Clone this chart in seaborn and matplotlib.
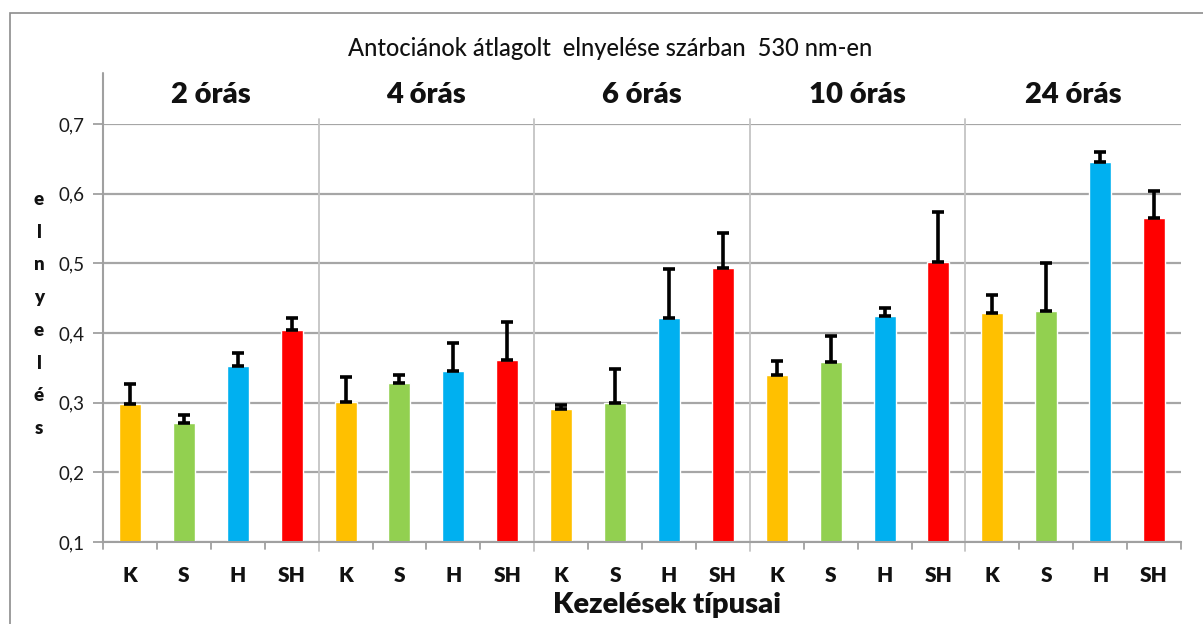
import numpy as np
import pandas as pd
import matplotlib
matplotlib.use("Agg")
import matplotlib.pyplot as plt
import seaborn as sns

# ---- data ----
groups = ["2 órás", "4 órás", "6 órás", "10 órás", "24 órás"]
treatments = ["K", "S", "H", "SH"]
values_2h = [0.298, 0.271, 0.353, 0.404]
values_4h = [0.301, 0.328, 0.346, 0.361]
values_6h = [0.291, 0.300, 0.421, 0.494]
values_10h = [0.339, 0.359, 0.424, 0.502]
values_24h = [0.428, 0.431, 0.646, 0.565]
err_2h = [0.029, 0.011, 0.019, 0.018]
err_4h = [0.036, 0.011, 0.040, 0.055]
err_6h = [0.005, 0.049, 0.071, 0.050]
err_10h = [0.021, 0.036, 0.012, 0.071]
err_24h = [0.027, 0.070, 0.014, 0.039]
yticks = [0.1, 0.2, 0.3, 0.4, 0.5, 0.6, 0.7]
ytick_labels = ["0,1", "0,2", "0,3", "0,4", "0,5", "0,6", "0,7"]
colors = {"K": "#FFC000", "S": "#92D050", "H": "#00B0F0", "SH": "#FF0000"}
title = "Antociánok átlagolt  elnyelése szárban  530 nm-en"
xlabel = "Kezelések típusai"
ylabel_letters = ["e", "l", "n", "y", "e", "l", "é", "s"]

all_vals = [values_2h, values_4h, values_6h, values_10h, values_24h]
all_errs = [err_2h, err_4h, err_6h, err_10h, err_24h]
rows = []
for g, vals, errs in zip(groups, all_vals, all_errs):
    for t, v, e in zip(treatments, vals, errs):
        rows.append({"pos": f"{g} {t}", "group": g, "treatment": t, "value": v, "err": e})
df = pd.DataFrame(rows)

sns.set_style("white")
plt.rcParams["font.family"] = ["Lato", "DejaVu Sans"]

W, H = 1203, 624
fig = plt.figure(figsize=(W / 100, H / 100), dpi=100)
ax_l, ax_r, ax_t, ax_b = 103, 1181, 124, 542
ax = fig.add_axes([ax_l / W, 1 - ax_b / H, (ax_r - ax_l) / W, (ax_b - ax_t) / H])

sns.barplot(data=df, x="pos", y="value", hue="treatment", palette=colors, saturation=1,
            dodge=False, width=0.41, legend=False, ax=ax, zorder=3)
ax.errorbar(np.arange(len(df)), df["value"], yerr=[np.zeros(len(df)), df["err"]],
            fmt="none", ecolor="black", elinewidth=2.6, capsize=4.5, capthick=2.6, zorder=4)

ax.set_ylim(0.1, 0.7)
ax.set_xlim(-0.5, len(df) - 0.5)
ax.set_yticks(yticks)
ax.set_yticklabels(ytick_labels, fontsize=13.5, color="#1a1a1a")
ax.set_xticks(np.arange(len(df)))
ax.set_xticklabels(list(df["treatment"]), fontsize=15, fontweight="heavy", color="#111111")
ax.tick_params(axis="x", length=0, pad=17)
ax.tick_params(axis="y", length=7, width=1.3, color="#a0a0a0", direction="out", left=True, pad=6)
ax.set_xlabel("")
ax.set_ylabel("")
ax.grid(axis="y", color="#a6a6a6", linewidth=1.6, zorder=0)
for s in ["top", "right"]:
    ax.spines[s].set_visible(False)
for s in ["left", "bottom"]:
    ax.spines[s].set_color("#a0a0a0")
    ax.spines[s].set_linewidth(1.5)
    ax.spines[s].set_zorder(5)

# extended left spine above the plot
ax.plot([0, 0], [1, 1.122], transform=ax.transAxes, color="#a0a0a0", lw=1.5, clip_on=False)
# category boundary ticks
trans = ax.get_xaxis_transform()
for i in range(len(df) + 1):
    x = i - 0.5
    if i % 4 == 0 and 0 < i < len(df):
        ax.plot([x, x], [-0.022, 1.012], transform=trans, color="#c4c4c4", lw=1.3,
                clip_on=False, zorder=2)
    else:
        ax.plot([x, x], [-0.017, 0], transform=trans, color="#a0a0a0", lw=1.3, clip_on=False)

# group labels
for gi, g in enumerate(groups):
    ax.text(gi * 4 + 1.5, 1.07, g, transform=trans, ha="center", va="center",
            fontsize=21, fontweight="heavy", color="#111111")

fig.text(610 / W, 1 - 48 / H, title, ha="center", va="center", fontsize=17,
         fontweight="medium", color="#111111")
fig.text(667 / W, 1 - 605 / H, xlabel, ha="center", va="center", fontsize=21, fontweight="heavy",
         color="#111111")
fig.text(39 / W, 1 - 314 / H, "\n".join(ylabel_letters), ha="center", va="center",
         fontsize=13.5, fontweight="heavy", linespacing=2.12, color="#111111")

# chart area border
fig.patches.append(plt.Rectangle((10 / W, -0.1), 1.2, 1 - 13 / H + 0.1, transform=fig.transFigure,
                                 fill=False, edgecolor="#8c8c8c", lw=1.2))

fig.savefig("out.png", dpi=100)
